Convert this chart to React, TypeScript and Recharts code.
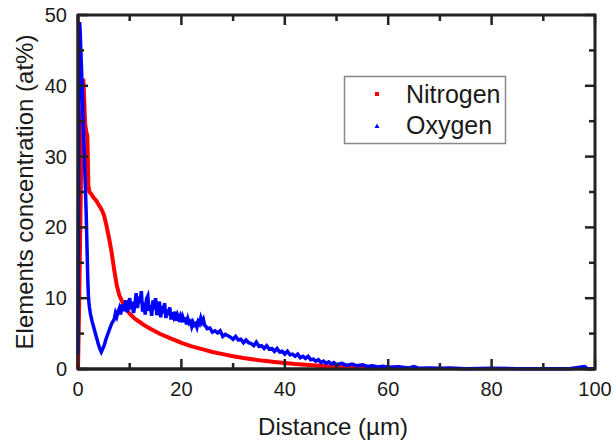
import { ComposedChart, Line, XAxis, YAxis, ReferenceArea } from "recharts";

const FONT = "'Liberation Sans', Arial, sans-serif";

const xTicks = [0, 10, 20, 30, 40, 50, 60, 70, 80, 90, 100];
const yTicks = [0, 5, 10, 15, 20, 25, 30, 35, 40, 45, 50];

const nitrogenX = [
  0, 0.2, 0.4, 0.6, 0.8, 1.0, 1.1, 1.2, 1.3, 1.4, 1.6, 1.8, 1.9, 2.0, 2.2, 2.5,
  3, 3.5, 4, 4.5, 5, 5.5, 6, 6.5, 7, 7.5, 8, 8.5, 9, 9.5, 10, 11, 12, 13, 14,
  15, 16, 17, 18, 19, 20, 22, 24, 26, 28, 30, 32, 34, 36, 38, 40, 42, 44, 46,
  48, 50, 52, 54, 56, 57,
];
const nitrogenY = [
  0, 8, 18, 28, 36, 41, 40, 38, 36, 34.5, 33.5, 33, 30, 26, 25, 24.8,
  24.2, 23.8, 23.2, 22.6, 21.8, 20.3, 18.5, 16.5, 14, 11.8, 10.4, 9.6, 9.0, 8.3, 7.8, 7.1, 6.6, 6.1, 5.7,
  5.3, 4.9, 4.6, 4.3, 4.0, 3.7, 3.2, 2.8, 2.4, 2.1, 1.8, 1.55, 1.35, 1.15, 1.0, 0.85, 0.7, 0.6, 0.5,
  0.4, 0.3, 0.25, 0.2, 0.15, 0.1,
];

const oxygenX = [
  0, 0.1, 0.2, 0.3, 0.4, 0.5, 0.6, 0.7, 0.8, 0.9, 1.0, 1.1, 1.2, 1.3, 1.4, 1.5,
  1.6, 1.7, 1.8, 1.9, 2.0, 2.1, 2.2, 2.4, 2.7, 3.0, 3.3, 3.6, 3.9, 4.2, 4.5,
  4.8, 5.1, 5.4, 5.7, 6.0, 6.5,
  7, 7.25, 7.5, 7.75, 8, 8.25, 8.5, 8.75, 9, 9.25, 9.5, 9.75,
  10, 10.25, 10.5, 10.75, 11, 11.25, 11.5, 11.75, 12, 12.25, 12.5, 12.75,
  13, 13.25, 13.5, 13.75, 14, 14.25, 14.5, 14.75, 15, 15.25, 15.5, 15.75,
  16, 16.25, 16.5, 16.75, 17, 17.25, 17.5, 17.75, 18, 18.25, 18.5, 18.75,
  19, 19.25, 19.5, 19.75, 20, 20.25, 20.5, 20.75, 21, 21.25, 21.5, 21.75,
  22, 22.25, 22.5, 22.75, 23, 23.25, 23.5, 23.75, 24, 24.25, 24.5, 24.75, 25,
  25.5, 26, 26.5, 27, 27.5, 28, 28.5, 29, 29.5, 30, 30.5, 31, 31.5, 32, 32.5,
  33, 33.5, 34, 34.5, 35, 35.5, 36, 36.5, 37, 37.5, 38, 38.5, 39, 39.5, 40,
  40.5, 41, 41.5, 42, 42.5, 43, 43.5, 44, 44.5, 45, 45.5, 46, 46.5, 47, 47.5,
  48, 48.5, 49, 49.5, 50, 51, 52, 53, 54, 55, 56, 57, 58, 59, 60, 62, 64, 65,
  66, 68, 70, 72, 75, 80, 85, 90, 95, 98, 98.5, 100,
];
const oxygenY = [
  2, 20, 40, 49, 48, 46, 44, 42, 40, 37.5, 35, 33, 31, 28.5, 26, 24,
  21.5, 18.5, 15.5, 12.5, 10.5, 9.5, 8.8, 7.8, 6.8, 6.0, 5.2, 4.4, 3.6, 2.9, 2.4,
  2.9, 3.4, 4.2, 4.8, 5.4, 6.4,
  7.0, 7.9, 7.4, 8.1, 8.6, 7.7, 9.1, 8.2, 8.9, 9.7, 8.0, 9.2,
  10.0, 8.4, 9.5, 7.9, 9.0, 10.7, 8.6, 10.2, 9.3, 11.0, 8.1, 9.4,
  7.7, 9.9, 10.3, 8.2, 9.0, 7.5, 9.7, 8.4, 10.0, 7.6, 8.8, 9.5,
  7.3, 8.9, 7.9, 9.3, 7.2, 8.4, 7.6, 8.7, 7.0, 8.0, 7.4, 8.1,
  6.8, 7.6, 7.1, 7.5, 6.6, 7.4, 6.9, 7.0, 6.3, 7.1, 6.5, 6.7,
  6.0, 6.6, 6.2, 6.4, 5.9, 6.7, 6.4, 7.2, 6.6, 7.0, 6.2, 6.0, 5.7,
  5.8, 5.2, 5.4, 5.1, 5.4, 4.6, 4.9, 4.7, 4.5, 4.2, 4.6, 4.1, 4.2, 3.7, 4.1,
  3.7, 3.6, 3.3, 3.8, 3.2, 3.3, 2.9, 3.3, 2.8, 2.9, 2.5, 2.9, 2.4, 2.5, 2.1,
  2.5, 2.0, 2.1, 1.8, 2.1, 1.6, 1.8, 1.5, 1.8, 1.3, 1.4, 1.1, 1.3, 0.9, 1.1,
  0.8, 1.0, 0.7, 0.9, 0.6, 0.8, 0.5, 0.7, 0.45, 0.6, 0.35, 0.45, 0.3, 0.4, 0.25, 0.3, 0.15, 0.35,
  0.1, 0.15, 0.1, 0.15, 0.05, 0.1, 0.05, 0.05, 0.05, 0.35, 0.05, 0.05,
];

const nitrogen = nitrogenX.map((x, i) => ({ x, y: nitrogenY[i] }));
const oxygen = oxygenX.map((x, i) => ({ x, y: oxygenY[i] }));

const AXIS = "#222222";
const TEXT = "#1a1a1a";

// plot box edges (layout only), used for the mirrored ticks on top / right
const PLOT_TOP = 15;
const PLOT_RIGHT = 595;

function BottomTick(props: any) {
  const { x, y, payload } = props;
  const major = payload.value % 20 === 0;
  const len = major ? 10 : 6;
  return (
    <g>
      <rect x={x - 1.25} y={y - len} width={2.5} height={len} fill={AXIS} />
      <rect x={x - 1.25} y={PLOT_TOP} width={2.5} height={len} fill={AXIS} />
      {major && (
        <text x={x} y={y + 27} textAnchor="middle" fontSize={20} fill={TEXT} fontFamily={FONT}>
          {payload.value}
        </text>
      )}
    </g>
  );
}

function LeftTick(props: any) {
  const { x, y, payload } = props;
  const major = payload.value % 10 === 0;
  const len = major ? 10 : 6;
  return (
    <g>
      <rect x={x} y={y - 1.25} width={len} height={2.5} fill={AXIS} />
      <rect x={PLOT_RIGHT - len} y={y - 1.25} width={len} height={2.5} fill={AXIS} />
      {major && (
        <text x={x - 11} y={y + 7} textAnchor="end" fontSize={20} fill={TEXT} fontFamily={FONT}>
          {payload.value}
        </text>
      )}
    </g>
  );
}

// axis titles and legend box, laid over the chart
function Overlay() {
  return (
    <svg
      width={613}
      height={443}
      style={{ position: "absolute", left: 0, top: 0, pointerEvents: "none" }}
    >
      <text x={333} y={435} textAnchor="middle" fontSize={24} fill={TEXT} fontFamily={FONT}>
        Distance (µm)
      </text>
      <text
        transform="translate(33,192) rotate(-90)"
        textAnchor="middle"
        fontSize={24}
        fill={TEXT}
        fontFamily={FONT}
      >
        Elements concentration (at%)
      </text>
      <g transform="translate(344,76)">
        <rect x={0.5} y={0.5} width={161} height={67} fill="#fff" stroke="#888" strokeWidth={1.5} />
        <rect x={31} y={16} width={4} height={4} fill="#ff0000" />
        <polygon points="33,47.5 35.5,52 30.5,52" fill="#0000ff" />
        <text x={62} y={27} fontSize={25} fill={TEXT} fontFamily={FONT}>Nitrogen</text>
        <text x={62} y={58} fontSize={25} fill={TEXT} fontFamily={FONT}>Oxygen</text>
      </g>
    </svg>
  );
}

export default function App() {
  return (
    <div style={{ position: "absolute", left: 0, top: 0, width: 613, height: 443, background: "#fff" }}>
      <ComposedChart width={613} height={443} margin={{ top: 15, right: 18, bottom: 0, left: 0 }}>
        <XAxis
          xAxisId="b"
          type="number"
          dataKey="x"
          domain={[0, 100]}
          ticks={xTicks}
          interval={0}
          height={74}
          tickSize={0}
          tickMargin={0}
          tickLine={false}
          axisLine={{ stroke: AXIS, strokeWidth: 3 }}
          tick={<BottomTick />}
        />
        <YAxis
          yAxisId="l"
          type="number"
          domain={[0, 50]}
          ticks={yTicks}
          interval={0}
          width={78}
          tickSize={0}
          tickMargin={0}
          tickLine={false}
          axisLine={{ stroke: AXIS, strokeWidth: 3 }}
          tick={<LeftTick />}
        />
        <ReferenceArea
          xAxisId="b"
          yAxisId="l"
          x1={0}
          x2={100}
          y1={0}
          y2={50}
          fill="none"
          stroke={AXIS}
          strokeWidth={3}
          ifOverflow="visible"
        />
        <Line
          xAxisId="b"
          yAxisId="l"
          data={nitrogen}
          dataKey="y"
          stroke="#ff0000"
          strokeWidth={4}
          dot={false}
          isAnimationActive={false}
        />
        <Line
          xAxisId="b"
          yAxisId="l"
          data={oxygen}
          dataKey="y"
          stroke="#0000ff"
          strokeWidth={3.5}
          dot={false}
          isAnimationActive={false}
        />
      </ComposedChart>
      <Overlay />
    </div>
  );
}
